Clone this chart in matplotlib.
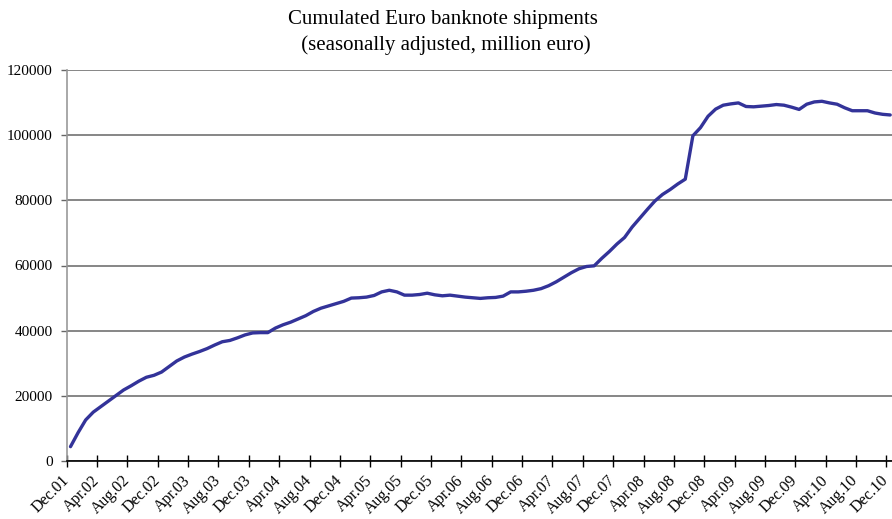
import matplotlib
matplotlib.use("Agg")
import matplotlib.pyplot as plt
import numpy as np

title = "Cumulated Euro banknote shipments\n (seasonally adjusted, million euro)"

tick_labels = ["Dec.01", "Apr.02", "Aug.02", "Dec.02", "Apr.03", "Aug.03", "Dec.03",
               "Apr.04", "Aug.04", "Dec.04", "Apr.05", "Aug.05", "Dec.05", "Apr.06",
               "Aug.06", "Dec.06", "Apr.07", "Aug.07", "Dec.07", "Apr.08", "Aug.08",
               "Dec.08", "Apr.09", "Aug.09", "Dec.09", "Apr.10", "Aug.10", "Dec.10"]

# monthly values Dec.01 .. Dec.10 (million euro)
shipments = [
    4400, 8700, 12600, 15000, 16700, 18400, 20100, 21800, 23100, 24500,
    25700, 26300, 27300, 29000, 30700, 31900, 32800, 33600, 34500, 35600,
    36600, 37000, 37800, 38700, 39300, 39400, 39400, 40800, 41800, 42600,
    43600, 44600, 45900, 46900, 47600, 48300, 49000, 50000, 50100, 50300,
    50800, 51900, 52400, 51900, 50900, 50900, 51100, 51500, 51000, 50700,
    50900, 50600, 50300, 50100, 49900, 50100, 50200, 50600, 51900, 51900,
    52100, 52400, 52900, 53800, 55000, 56400, 57800, 59000, 59700, 59900,
    62200, 64300, 66600, 68600, 71800, 74500, 77200, 79800, 81800, 83300,
    85000, 86500, 99800, 102300, 105800, 108000, 109200, 109600, 109900, 108800,
    108700, 108900, 109100, 109400, 109200, 108600, 107900, 109500, 110200, 110400,
    109900, 109500, 108400, 107500, 107500, 107500, 106800, 106400, 106200,
]

y_ticks = [0, 20000, 40000, 60000, 80000, 100000, 120000]

plt.rcParams['font.family'] = ['Liberation Serif', 'DejaVu Serif']

fig = plt.figure(figsize=(8.92, 5.19), dpi=100)
ax = fig.add_axes([66.7 / 892, 58 / 519, (894 - 66.7) / 892, 391 / 519])

n = len(shipments)
x = np.arange(n) + 0.5
ax.plot(x, shipments, color='#333399', lw=2.4, solid_capstyle='round', solid_joinstyle='round', zorder=3)

ax.set_xlim(0, n)
ax.set_ylim(0, 120000)

ax.set_yticks(y_ticks)
ax.set_yticklabels([str(v) for v in y_ticks], fontsize=11)
ax.yaxis.grid(True, color='#666666', lw=1.1)
ax.set_axisbelow(True)

ax.set_xticks(np.arange(0, n, 4))
ax.set_xticklabels(tick_labels, rotation=45, ha='right', va='center', rotation_mode='anchor', fontsize=11.5)

for s in ['top', 'right']:
    ax.spines[s].set_visible(False)
ax.spines['left'].set_color('#999999')
ax.spines['left'].set_linewidth(1.2)
ax.spines['bottom'].set_color('black')
ax.spines['bottom'].set_linewidth(1.2)
ax.tick_params(axis='x', direction='inout', length=9, width=1.0, color='black', pad=8)
ax.tick_params(axis='y', direction='out', length=4, width=1.0, color='#666666', pad=6)

fig.text(443 / 892, 1 - 10 / 519, title, ha='center', va='top', fontsize=15, linespacing=1.4)

fig.savefig('out.png', dpi=100)
